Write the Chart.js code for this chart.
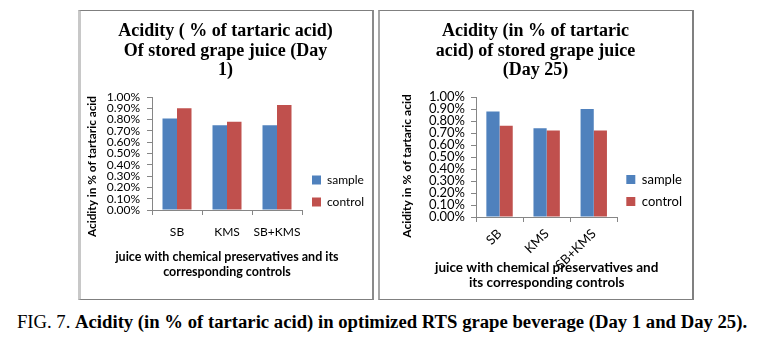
<!DOCTYPE html>
<html lang="en">
<head>
<meta charset="UTF-8">
<title>Acidity of RTS grape beverage</title>
<script src="https://cdn.jsdelivr.net/npm/chart.js"></script>
<style>
    body {
        margin: 0;
        width: 764px;
        height: 342px;
        background: #fff;
        position: relative;
        overflow: hidden;
    }
    .panel {
        position: absolute;
        box-sizing: border-box;
        background: #fff;
    }
    #panelDay1 {
        left: 78px; top: 10px; width: 296px; height: 290px;
        border-left: 3px solid #c8c8c8;
        border-top: 1px solid #7f7f7f;
        border-right: 2px solid #8a8a8a;
        border-bottom: 1px solid #7f7f7f;
    }
    #panelDay25 {
        left: 378px; top: 10px; width: 316px; height: 290px;
        border-left: 2px solid #a6a6a6;
        border-top: 1px solid #808080;
        border-right: 2px solid #808080;
        border-bottom: 1px solid #808080;
    }
    canvas {
        position: absolute;
    }
    #chartDay1 { left: 78px; top: 10px; }
    #chartDay25 { left: 379px; top: 10px; }
    .caption {
        position: absolute;
        left: 0; width: 764px; top: 311px;
        text-align: center;
        font-family: "Liberation Serif", "Times New Roman", serif;
        font-size: 18.7px;
        line-height: 22px;
        color: #000;
        white-space: nowrap;
    }
    .caption b { font-weight: bold; }
</style>
</head>
<body>
<div class="panel" id="panelDay1"></div>
<div class="panel" id="panelDay25"></div>
<canvas id="chartDay1" width="295" height="289"></canvas>
<canvas id="chartDay25" width="313" height="289"></canvas>
<div class="caption">FIG. 7. <b>Acidity (in % of tartaric acid) in optimized RTS grape beverage (Day 1 and Day 25).</b></div>

<script>
// acidity, % of tartaric acid
const categories = ['SB', 'KMS', 'SB+KMS'];
const day1Sample = [0.81, 0.75, 0.75];
const day1Control = [0.90, 0.78, 0.93];
const day25Sample = [0.88, 0.74, 0.90];
const day25Control = [0.76, 0.72, 0.72];
const seriesNames = ['sample', 'control'];
const yMax = 1.0;
const yStep = 0.1;

const BLUE = '#4f81bd';
const RED = '#c0504d';
const AXIS = '#868686';
const TEXT = '#000';

// axis titles drawn by hand so long lines are not squeezed to the plot width
const axisTitles = {
    id: 'axisTitles',
    afterDraw(chart, args, o) {
        const { ctx, chartArea } = chart;
        ctx.save();
        ctx.fillStyle = TEXT;
        ctx.textAlign = 'center';
        ctx.textBaseline = 'middle';

        ctx.font = 'bold ' + o.ySize + 'px Lato';
        ctx.save();
        ctx.translate(o.yX, (chartArea.top + chartArea.bottom) / 2 + o.yShift);
        ctx.rotate(-Math.PI / 2);
        ctx.fillText(o.yText, 0, 0);
        ctx.restore();

        ctx.font = 'bold ' + o.xSize + 'px Lato';
        const cx = (chartArea.left + chartArea.right) / 2;
        o.xText.forEach((line, i) => ctx.fillText(line, cx, o.xY + i * o.xLine));
        ctx.restore();
    }
};

// moves the legend block down by a few pixels
const legendShift = {
    id: 'legendShift',
    afterLayout(chart, args, opts) {
        if (opts.dy) {
            chart.legend.top += opts.dy;
            chart.legend.bottom += opts.dy;
        }
    }
};

function makeChart(id, cfg) {
    const tickFont = { family: 'Lato', size: cfg.fontSize };
    new Chart(document.getElementById(id), {
        type: 'bar',
        data: {
            labels: categories,
            datasets: [
                { label: seriesNames[0], data: cfg.sample, backgroundColor: BLUE, borderWidth: 0 },
                { label: seriesNames[1], data: cfg.control, backgroundColor: RED, borderWidth: 0 }
            ]
        },
        plugins: [axisTitles, legendShift],
        options: {
            responsive: false,
            animation: false,
            layout: { padding: 0 },
            datasets: {
                bar: { categoryPercentage: cfg.groupWidth, barPercentage: 1 }
            },
            plugins: {
                title: {
                    display: true,
                    text: cfg.title,
                    color: TEXT,
                    font: { family: 'Liberation Serif', weight: 'bold', size: 18, lineHeight: '19.5px' },
                    padding: { top: 12, bottom: 87 - 12 - 58.5 }
                },
                legend: {
                    position: 'right',
                    align: 'end',
                    fullSize: false,
                    maxWidth: cfg.legendWidth,
                    labels: {
                        boxWidth: 9,
                        boxHeight: 9,
                        padding: 22 - cfg.fontSize,
                        color: TEXT,
                        font: tickFont
                    }
                },
                legendShift: { dy: cfg.legendDy },
                axisTitles: {
                    yText: 'Acidity in % of tartaric acid',
                    yX: cfg.yTitleX,
                    yShift: cfg.yTitleShift,
                    ySize: cfg.yTitleSize,
                    xText: cfg.xTitle,
                    xY: cfg.xTitleY,
                    xSize: cfg.xTitleSize,
                    xLine: 15
                },
                tooltip: { enabled: false }
            },
            scales: {
                x: {
                    grid: { drawOnChartArea: false, tickLength: 5, color: AXIS, offset: true },
                    border: { color: AXIS },
                    ticks: {
                        color: TEXT,
                        font: tickFont,
                        padding: cfg.xTickPad,
                        autoSkip: false,
                        minRotation: cfg.xRotation,
                        maxRotation: cfg.xRotation
                    },
                    afterFit: s => { s.height = cfg.xHeight; }
                },
                y: {
                    min: 0,
                    max: yMax,
                    grid: { drawOnChartArea: false, tickLength: 5, color: AXIS },
                    border: { color: AXIS },
                    ticks: {
                        stepSize: yStep,
                        autoSkip: false,
                        color: TEXT,
                        font: tickFont,
                        padding: cfg.yTickPad,
                        callback: v => v.toFixed(2) + '%'
                    },
                    afterFit: s => { s.width = cfg.yWidth; }
                }
            }
        }
    });
}

makeChart('chartDay1', {
    sample: day1Sample,
    control: day1Control,
    title: ['Acidity ( % of tartaric acid)', 'Of stored grape juice (Day', '1)'],
    xTitle: ['juice with chemical preservatives and its', 'corresponding controls'],
    fontSize: 12,
    groupWidth: 0.58,
    legendWidth: 71,
    legendDy: 8,
    yTitleX: 14,
    yTitleShift: 13,
    yTitleSize: 11.8,
    xTickPad: 10,
    xRotation: 0,
    xTitleSize: 12.5,
    xTitleY: 247,
    xHeight: 89,
    yTickPad: 7,
    yWidth: 74
});

makeChart('chartDay25', {
    sample: day25Sample,
    control: day25Control,
    title: ['Acidity (in % of tartaric', 'acid) of stored grape juice', '(Day 25)'],
    xTitle: ['juice with chemical preservatives and', 'its corresponding controls'],
    fontSize: 13,
    groupWidth: 0.56,
    legendWidth: 76,
    legendDy: 0,
    yTitleX: 28,
    yTitleShift: 9,
    yTitleSize: 12,
    xTickPad: 4,
    xRotation: 45,
    xTitleSize: 13.5,
    xTitleY: 258,
    xHeight: 82,
    yTickPad: 6,
    yWidth: 97
});
</script>
</body>
</html>
